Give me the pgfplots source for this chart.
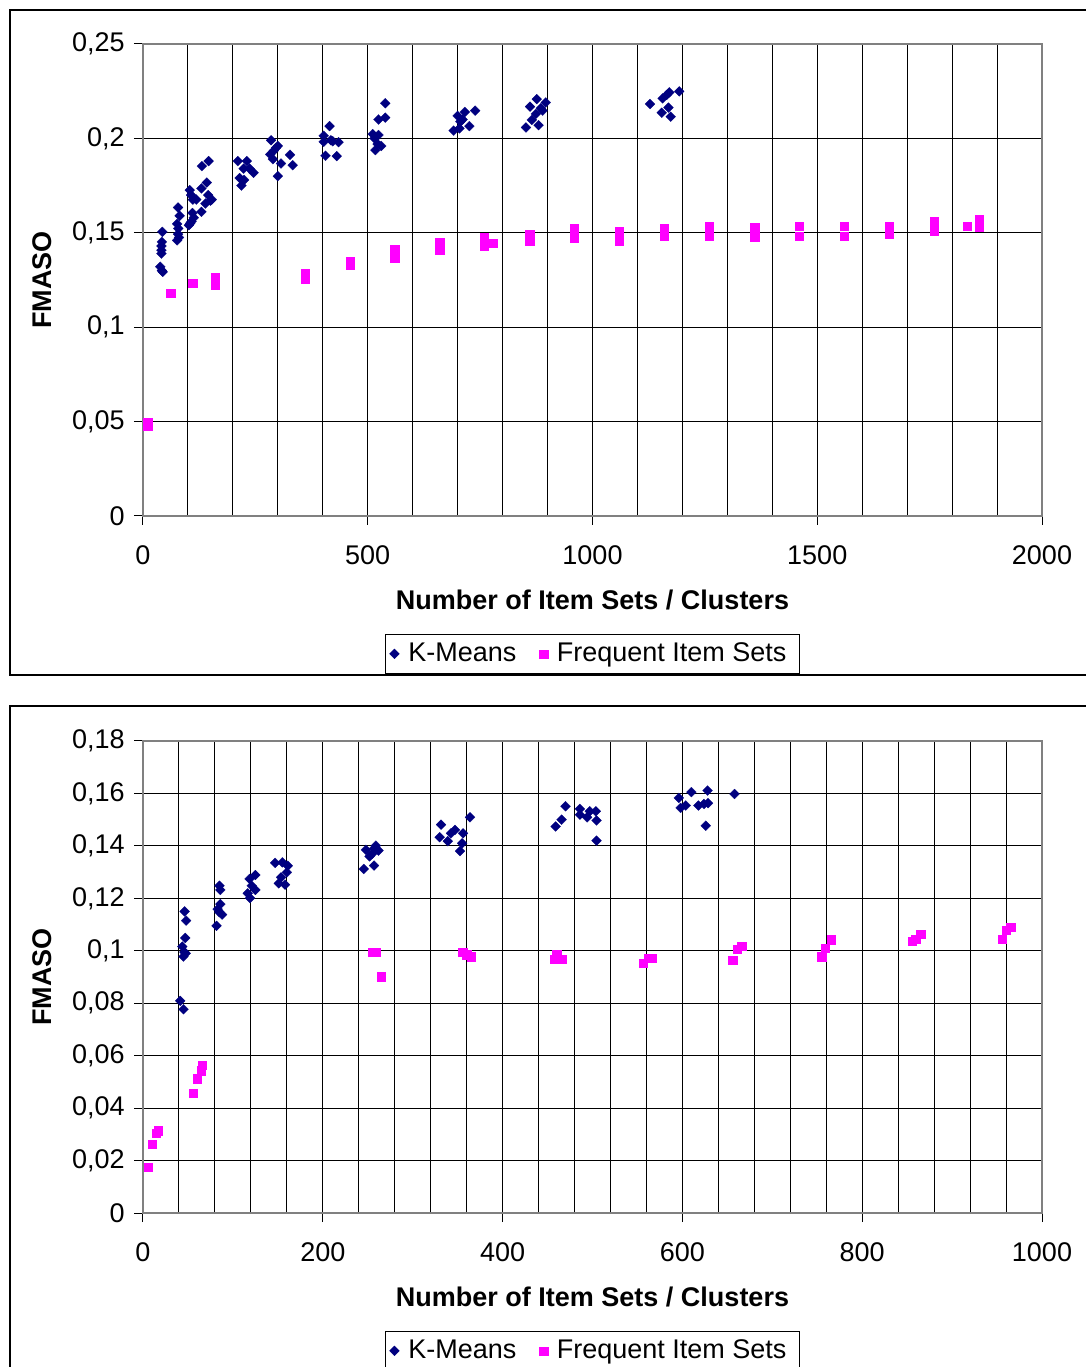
\documentclass[border=0pt]{standalone}
\usepackage{pgfplots}
\pgfplotsset{compat=1.18}
\usepackage{fontspec}
\setmainfont{Liberation Sans}
\definecolor{kmnavy}{RGB}{0,0,128}
\definecolor{fismag}{RGB}{255,0,255}
\pgfplotsset{
  fmaso/.style={
    scale only axis, width=449.5pt, height=236pt,
    xmin=0, ymin=0,
    grid=both,
    major grid style={black, line width=0.5pt},
    minor grid style={black, line width=0.5pt},
    axis line style={gray, line width=0.8pt},
    tick align=outside, major tick length=4.5pt, minor tick length=0pt,
    xtick pos=lower, ytick pos=left,
    tick style={black, line width=0.5pt},
    scaled x ticks=false, scaled y ticks=false,
    xticklabel style={yshift=-5.5pt, /pgf/number format/fixed, /pgf/number format/1000 sep={}, /pgf/number format/assume math mode=true},
    yticklabel style={/pgf/number format/fixed, /pgf/number format/precision=2, /pgf/number format/use comma, /pgf/number format/1000 sep={}, /pgf/number format/assume math mode=true},
    xlabel={\textbf{Number of Item Sets / Clusters}},
    ylabel={\textbf{FMASO}},
    xlabel style={at={(axis description cs:0.5,-0.178)}, anchor=center},
    ylabel style={at={(axis description cs:-0.1123,0.5)}, anchor=center},
    legend style={at={(axis description cs:0.5,-0.292)}, anchor=center, legend columns=2, draw=black, line width=0.5pt, inner sep=2pt,
      nodes={inner xsep=4.5pt},
      /tikz/every even column/.append style={column sep=7pt}},
    legend cell align=left,
  },
  kmstyle/.style={only marks, mark=square*, mark size=1.75pt, mark options={rotate=45, fill=kmnavy, draw=kmnavy, line width=0.1pt}},
  fisstyle/.style={only marks, mark=square*, mark size=2.1pt, mark options={fill=fismag, draw=fismag, line width=0.1pt}},
}
\begin{document}
\fontsize{13.5}{16}\selectfont
\begin{tikzpicture}
\useasboundingbox (0,0) rectangle (543pt,683.5pt);
\clip (0,0) rectangle (543pt,683.5pt);
\fill[white] (0,0) rectangle (543pt,683.5pt);
\draw[line width=0.6pt] (5pt,346pt) rectangle (560pt,678.5pt);
\draw[line width=1.2pt] (5pt,346pt) -- (560pt,346pt);
\draw[line width=0.6pt] (5pt,-10pt) rectangle (560pt,330.5pt);
\begin{axis}[fmaso, at={(71.5pt,425.5pt)}, anchor=south west,
  xmax=2000, ymax=0.25,
  xtick={0,500,1000,1500,2000}, minor xtick={100,200,300,400,600,700,800,900,1100,1200,1300,1400,1600,1700,1800,1900},
  ytick={0,0.05,0.1,0.15,0.2,0.25}]
\addplot[kmstyle] table[row sep=\\] {
x y\\
43 0.1505\\ 42 0.1452\\ 41 0.1430\\ 41 0.1408\\ 41 0.1390\\ 38.5 0.1320\\ 44 0.1293\\ 42 0.1300\\
78 0.1634\\ 81.5 0.1590\\ 76 0.1547\\ 78.5 0.1523\\ 78 0.1493\\ 76 0.1460\\ 80 0.1475\\
104 0.1726\\ 107 0.1700\\ 111 0.1676\\ 110 0.1605\\ 113 0.1580\\ 105 0.1550\\ 102 0.1540\\ 108 0.1560\\ 118.5 0.1676\\
131 0.1853\\ 146 0.1880\\ 142 0.1766\\ 130 0.1735\\ 145 0.1700\\ 153 0.1676\\ 139 0.1655\\ 130 0.1611\\ 150 0.1670\\
211 0.1880\\ 231 0.1880\\ 224 0.1840\\ 237 0.1840\\ 246 0.1818\\ 215 0.1790\\ 225 0.1780\\ 219 0.1750\\
285 0.1990\\ 300 0.1960\\ 291 0.1935\\ 283 0.1915\\ 289 0.1890\\ 307 0.1867\\ 300 0.1800\\ 327 0.1913\\ 333 0.1858\\ 296 0.1950\\
402 0.2014\\ 415 0.2065\\ 402 0.1982\\ 418 0.1990\\ 435 0.1980\\ 406 0.1908\\ 431 0.1906\\ 422 0.1985\\
539 0.2186\\ 524 0.2100\\ 539 0.2110\\ 511 0.2023\\ 515 0.2000\\ 524 0.2018\\ 517 0.1938\\ 530 0.1960\\ 522 0.1970\\
691 0.2041\\ 700 0.2119\\ 716 0.2140\\ 739 0.2147\\ 706 0.2089\\ 726 0.2065\\ 704 0.2053\\ 711 0.2100\\
852 0.2058\\ 861 0.2168\\ 876 0.2208\\ 896 0.2190\\ 889 0.2147\\ 874 0.2130\\ 865 0.2098\\ 880 0.2070\\ 885 0.2160\\
1128 0.2182\\ 1156 0.2212\\ 1171 0.2244\\ 1193 0.2249\\ 1169 0.2163\\ 1154 0.2136\\ 1174 0.2115\\ 1165 0.2230\\
};
\addlegendentry{K-Means}
\addplot[fisstyle] table[row sep=\\] {
x y\\
10 0.0495\\ 10 0.0475\\ 61 0.1181\\ 110 0.1234\\ 161 0.1266\\ 161 0.1222\\
360 0.1287\\ 360 0.1257\\ 461 0.1350\\ 461 0.1329\\ 560 0.1415\\ 560 0.1366\\
660 0.1450\\ 660 0.1412\\ 759 0.1477\\ 759 0.1428\\ 778 0.1445\\ 860 0.1494\\ 860 0.1455\\
959 0.1522\\ 959 0.1473\\ 1059 0.1510\\ 1059 0.1458\\ 1159 0.1523\\ 1159 0.1482\\
1260 0.1532\\ 1260 0.1482\\ 1361 0.1530\\ 1361 0.1480\\ 1460 0.1535\\ 1460 0.1482\\
1560 0.1535\\ 1560 0.1482\\ 1660 0.1535\\ 1660 0.1495\\ 1760 0.1560\\ 1760 0.1510\\
1834 0.1537\\ 1860 0.1574\\ 1860 0.1533\\
};
\addlegendentry{Frequent Item Sets}
\end{axis}
\begin{axis}[fmaso, at={(71.5pt,77pt)}, anchor=south west,
  xmax=1000, ymax=0.18,
  xtick={0,200,400,600,800,1000}, minor x tick num=4,
  ytick={0,0.02,0.04,0.06,0.08,0.1,0.12,0.14,0.16,0.18}]
\addplot[kmstyle] table[row sep=\\] {
x y\\
46.3 0.1150\\ 48 0.1115\\ 47 0.1049\\ 43.7 0.1016\\ 46 0.0995\\ 45 0.0978\\ 47.5 0.0990\\ 41.4 0.0809\\ 45 0.0777\\
85 0.1248\\ 86 0.1232\\ 86 0.1178\\ 83 0.1159\\ 85 0.1147\\ 88 0.1138\\ 81.8 0.1095\\
125 0.1289\\ 118.5 0.1274\\ 121 0.1248\\ 125 0.1232\\ 116.5 0.1219\\ 119 0.1201\\
147 0.1335\\ 155 0.1337\\ 161 0.1324\\ 160 0.1299\\ 153.6 0.1280\\ 151 0.1257\\ 158 0.1252\\
245.6 0.1312\\ 248 0.1385\\ 252 0.1360\\ 259 0.1401\\ 262 0.1382\\ 257 0.1325\\ 255 0.1370\\ 257 0.1390\\
331.5 0.1481\\ 330 0.1433\\ 339 0.1418\\ 342.6 0.1448\\ 347 0.1461\\ 356 0.1448\\ 355 0.1410\\ 352.6 0.1380\\ 363.7 0.1509\\
459 0.1474\\ 465.6 0.1500\\ 470 0.1551\\ 486 0.1541\\ 486 0.1519\\ 494 0.1509\\ 497 0.1532\\ 503.7 0.1532\\ 504.5 0.1497\\ 504.5 0.1420\\
596 0.1583\\ 598 0.1545\\ 603.7 0.1554\\ 610 0.1605\\ 617.8 0.1554\\ 624 0.1560\\ 628.5 0.1563\\ 628 0.1611\\ 626 0.1477\\ 658 0.1598\\
};
\addlegendentry{K-Means}
\addplot[fisstyle] table[row sep=\\] {
x y\\
5.9 0.0175\\ 10 0.0263\\ 14.8 0.0304\\ 16.7 0.0314\\ 55.9 0.0457\\ 60 0.0512\\ 64.4 0.0543\\ 66 0.0565\\
255 0.0994\\ 259 0.0994\\ 265 0.0901\\ 355.5 0.0995\\ 360 0.0985\\ 365 0.0978\\
458 0.0968\\ 460 0.0985\\ 465.7 0.0968\\ 556 0.0953\\ 561.8 0.0972\\ 566 0.0972\\
656 0.0964\\ 661 0.1006\\ 666 0.1017\\ 755 0.0978\\ 759 0.1010\\ 765.5 0.1042\\
855.7 0.1038\\ 859.5 0.1044\\ 865 0.1064\\ 955.7 0.1044\\ 960 0.1079\\ 965 0.1091\\
};
\addlegendentry{Frequent Item Sets}
\end{axis}
\end{tikzpicture}
\end{document}
